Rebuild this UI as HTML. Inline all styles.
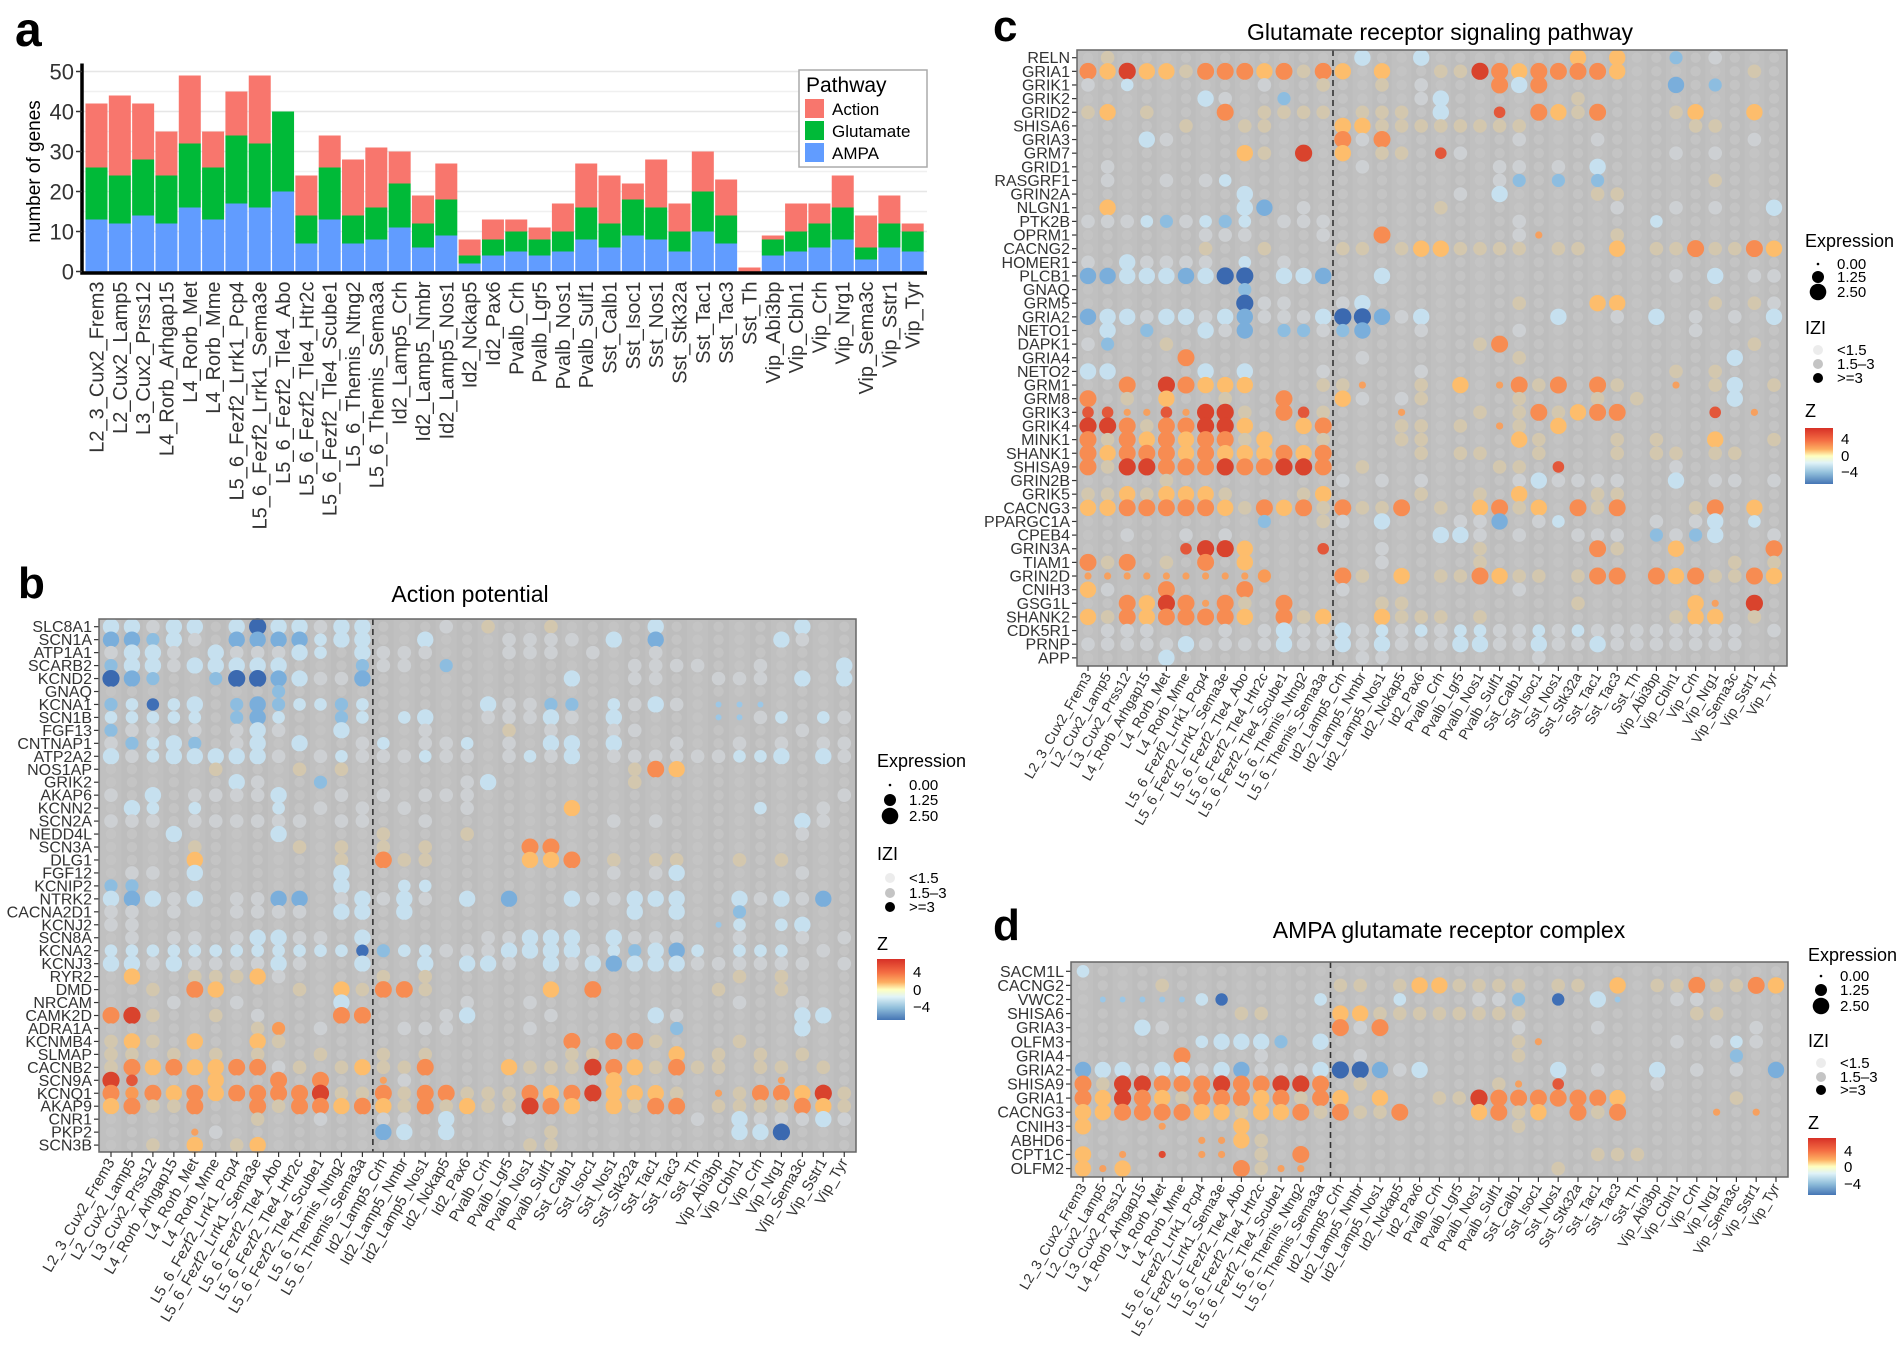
<!DOCTYPE html>
<html><head><meta charset="utf-8">
<style>
html,body{margin:0;padding:0;background:#fff;}
svg{display:block;font-family:"Liberation Sans Narrow","Liberation Sans",sans-serif;}
</style></head>
<body>
<svg id="fig" width="1901" height="1350" viewBox="0 0 1901 1350" xmlns="http://www.w3.org/2000/svg">
<defs>
<linearGradient id="zgrad" x1="0" y1="0" x2="0" y2="1">
<stop offset="0" stop-color="#d73027"/><stop offset="0.22" stop-color="#f46d43"/><stop offset="0.38" stop-color="#fdae61"/><stop offset="0.5" stop-color="#ffffbf"/><stop offset="0.62" stop-color="#e0f3f8"/><stop offset="0.8" stop-color="#91bfdb"/><stop offset="1" stop-color="#4575b4"/>
</linearGradient>
</defs>
<g id="panelA"></g>
<g id="panelB"></g>
<g id="panelC"></g>
<g id="panelD"></g>
</svg>
<script>
// ---------- shared categories ----------
const cellTypes = ["L2_3_Cux2_Frem3","L2_Cux2_Lamp5","L3_Cux2_Prss12","L4_Rorb_Arhgap15","L4_Rorb_Met","L4_Rorb_Mme","L5_6_Fezf2_Lrrk1_Pcp4","L5_6_Fezf2_Lrrk1_Sema3e","L5_6_Fezf2_Tle4_Abo","L5_6_Fezf2_Tle4_Htr2c","L5_6_Fezf2_Tle4_Scube1","L5_6_Themis_Ntng2","L5_6_Themis_Sema3a","Id2_Lamp5_Crh","Id2_Lamp5_Nmbr","Id2_Lamp5_Nos1","Id2_Nckap5","Id2_Pax6","Pvalb_Crh","Pvalb_Lgr5","Pvalb_Nos1","Pvalb_Sulf1","Sst_Calb1","Sst_Isoc1","Sst_Nos1","Sst_Stk32a","Sst_Tac1","Sst_Tac3","Sst_Th","Vip_Abi3bp","Vip_Cbln1","Vip_Crh","Vip_Nrg1","Vip_Sema3c","Vip_Sstr1","Vip_Tyr"];

// ---------- panel a data ----------
const ampaCounts = [13,12,14,12,16,13,17,16,20,7,13,7,8,11,6,9,2,4,5,4,5,8,6,9,8,5,10,7,0,4,5,6,8,3,6,5];
const glutamateCounts = [13,12,14,12,16,13,17,16,20,7,13,7,8,11,6,9,2,4,5,4,5,8,6,9,8,5,10,7,0,4,5,6,8,3,6,5];
const actionCounts = [16,20,14,11,17,9,11,17,0,10,8,14,15,8,7,9,4,5,3,3,7,11,12,4,12,7,10,9,1,1,7,5,8,8,7,2];
const yTicksA = [0,10,20,30,40,50];

// ---------- panel b data ----------
const genesB = ["SLC8A1","SCN1A","ATP1A1","SCARB2","KCND2","GNAQ","KCNA1","SCN1B","FGF13","CNTNAP1","ATP2A2","NOS1AP","GRIK2","AKAP6","KCNN2","SCN2A","NEDD4L","SCN3A","DLG1","FGF12","KCNIP2","NTRK2","CACNA2D1","KCNJ2","SCN8A","KCNA2","KCNJ3","RYR2","DMD","NRCAM","CAMK2D","ADRA1A","KCNMB4","SLMAP","CACNB2","SCN9A","KCNQ1","AKAP9","CNR1","PKP2","SCN3B"];
const valuesB = [
["LLgLL.LDLLgLL","...g.y..y....L","......L.."],
["MMmLg.MMMMlLL","..L...gggg.L.M",".....Lg.."],
["gLLg.LgggLl.L","ggg...ggg.g..g","........."],
["mLLgLLLLL...m","gg.m........gg","gg..g...L"],
["DMm..mDDMLggM",".........L..gg","..ggg.L.L"],
["........m....","..............","........."],
["mldlL.mMmllml",".....Lggmm.lgL","g.bbb...."],
["lllll.mMl..ml",".lL..gggLg.L..","..bbgl.lg"],
["mgg.g.gLg..L.","..g...y.g..gg.","......g.."],
["gmlLm.gL.L..g","l.ggl.g.LL.L..","g..g.g.gg"],
["LglLLLLLg.glg","gglgg.glgL.ggg","gggllL.Lg"],
[".....y...y.y.","............yO","Y........"],
["......Lg..m..","....gL......y.","........."],
["g.L.ggggL..g.","g.ggg.........","........g"],
[".Ll.l...l.g.g",".g..g....Y....","....l..g."],
["ggg.gggggg.gg","..g........g.g","......Lg."],
["...L....L....","y...y.........","......g.."],
["....y....y.y.","y.y....OO.....","........."],
["....Y......y.","Oyy....YYO.y.y","y..y.y..."],
[".gg.L......L.","...........g.g","L.....g.."],
["mm.........L.",".ll...........","........."],
["LMLgL.ggMM.gL","gLg.L.M..LggLL","L..LgLgM."],
["gg.g..gggg.LL",".L..........L.","L..m....."],
["gg...........","..............","..bl.lL.."],
[".g.gg.gLLgg.L",".....ggLLL.Lgg","g..g..g.g"],
["lllllllllllld","mllgggLLLLglmL","Ml.lll.g."],
["LLgLggggLg..L","..L.LLg.LgLMLL","Lgggggg.g"],
[".Y..yyyYg....","y.y...........","...y.y..."],
["..y.OY...y.Yy","OOy.....Y.O...","..y..y..."],
["...g..g....L.","....g..g......","...g..g.."],
["ORy..y.g...OO","...gL...g....L","g.....LL."],
[".......yo.g..",".ggg...g......","m.....L.."],
["yYy.Y..Yy....",".........O.OOy","...y....."],
["yy.y.y.y..y..","y.y......yy...","Y.y.y.y.."],
["yOYOYYOOgy.yY","yyO...YyyyROYy","Oyy.yy.y."],
["Rr...Y..O.O..","sg.........Y..",".....s..."],
["OoOYOYOOOORyy","OyOOyyyOYORYYY","y.syOOYRy"],
["YOyyO..OyOOYO","YyOyYyyROY.YyO","O.yyyyOYy"],
[".......y..g..","gg.L..g.......",".g.LgggLg"],
["....sg.......","ML.L....y.....","...LLD..."],
["..y.Y.yY.....",".......yy.....","........."]
];

// ---------- panel c data ----------
const genesC = ["RELN","GRIA1","GRIK1","GRIK2","GRID2","SHISA6","GRIA3","GRM7","GRID1","RASGRF1","GRIN2A","NLGN1","PTK2B","OPRM1","CACNG2","HOMER1","PLCB1","GNAQ","GRM5","GRIA2","NETO1","DAPK1","GRIA4","NETO2","GRM1","GRM8","GRIK3","GRIK4","MINK1","SHANK1","SHISA9","GRIN2B","GRIK5","CACNG3","PPARGC1A","CPEB4","GRIN3A","TIAM1","GRIN2D","CNIH3","GSG1L","SHANK2","CDK5R1","PRNP","APP"];
const valuesC = [
[".y...........",".L..L.......Y.","Y..m.g..."],
["OYRYYyOOOYOyO","Y.Y..yyROYOOOO","Y......y."],
["g.l......g..y","..y.g...OLO...","...M.m..."],
["......Lg..m..","....gL......y.","........."],
["yY.y...O.yyyy",".yyy.L..r.OYyO","...yY..Y."],
[".....y..yy...","YYyyyyyyyy....","....yy..."],
["...Lg........","OgO......g...g",".......g."],
["........Yy.R.","Y.yy.rg.......","...g.g..."],
[".g...........",".g......gg.g.L","........."],
[".g..g.gl.....","........gm.m.m",".....y..."],
["........L....","......g.L....y","y........"],
[".Y......LM.g.",".....y........","g..g.g..L"],
["ggglmglml.ggg",".........g....","..l......"],
["......ggg...g","..O......gs...","y........"],
["......y..y...","yy.yYYyyyy.yy.","Y.yyOyyOY"],
["g.Lgggg.l.g..","..............","........."],
["MMLLLMLDD.LLM","..L...........","...g.L.gg"],
["........m....","..............","........."],
["........Dgg..","gL.......y...Y","Y....y.yg"],
["MLLgLLgLMgggL","DDMgL......L..","g.L.g.g.L"],
[".L.m..LgM.mmg","mM..g....g....","....g...."],
["gm..y........",".......yO.....",".......y."],
[".....O.......",".g.......y....","......L.."],
["LL....L.L...g","....g.........","...y.y..."],
["..O.ROYYY...y","ys..y.Y.sOyO.O","y..s.yL.y"],
["O.y.Y..y..O..","Yg.gy....y...y",".y....L.."],
["rrssrsRRy.Ory","...s...y.yOyYO","O....r.s."],
["RROyOORRY..YO","...yy.y.sy.Y..","........."],
["OyOYOYOOyY..y","...yy....Yy...","y.y..Y..y"],
["OYOOOYOYYYOYO","....y.yy..y...","y.yy.yy.."],
["OyRROOOROORRO",".y......yy.r..","...g....."],
["....y........","g.g.g....gLggg","g..L.gg.g"],
["yyYyYYYy...yY","....y..y.Y...y","y........"],
["YYOOOOOYyOYOy","OyyO.y.YOyY.Oy","O...yO.Y."],
[".........m..y","g.L...ggM.gl..","..g.gL.l."],
["..g..g.g.....",".....LLg.g..gg","g.mgmL..g"],
[".....rRRY...r","..g....y.....O","y..Y....O"],
["OyO.y.O.Y....","..g....y......","......y.y"],
["ssssssssso...","Oy.Y.yyOYyy.yO","O.OYOyyOY"],
["Yg..O...O....","g........g....","........."],
["..OYROsOy.O..","..yy........y.","....Ys.R."],
["YyOYOOOOY.OyY","..Yyyy.y......","...yYY.y."],
[".ggg...g.gLgg","Lglglgllgglglg","ggggggg.g"],
["gggggLggggLgg","LgLgggLLggLggL","ggggggg.."],
["....L........",".gg.......g...","........."]
];

// ---------- panel d data ----------
const genesD = ["SACM1L","CACNG2","VWC2","SHISA6","GRIA3","OLFM3","GRIA4","GRIA2","SHISA9","GRIA1","CACNG3","CNIH3","ABHD6","CPT1C","OLFM2"];
const valuesD = [
["l............","..............","........."],
["....y........","yy.yYYyyyy.yy.","Y.yyOyyOY"],
[".bbbbbld....l","...l...ggm.d.L","b..gg...."],
["........yy...","YYyyyyyyyy....","....yy..."],
["...Lg........","OgO......g...g",".......g."],
["......lLLLm.L",".........ys...","...g.glg."],
[".....O...g...",".g.......y....","......m.."],
["MLLgLLgLMgggL","DDMgL......L.g","..L.g.g.M"],
["OyRROOOROORRO",".y......ys.r..","..g......"],
["OYROYyOOOYOyO","Y.Y..yyROOOOOO","Y.....y.."],
["YYOOOOYYyYYOy","OyyO...YOyY.Oy","O....s.s."],
["Y...s...Y....",".........y....","........."],
["......ssYy...","..............","........."],
["Y.s.x.ss.y.O.",".............y","yy......."],
["YsY.....Oyss.","...........y..","........."]
];
const zTicks = ["4","0","\u22124"];
const exprTicks = ["0.00","1.25","2.50"];
const iziTicks = ["<1.5","1.5\u20133",">=3"];

// ---------- helpers ----------
const NS = "http://www.w3.org/2000/svg";
function mk(parent, tag, attrs, text) {
  const el = document.createElementNS(NS, tag);
  for (const k in attrs) el.setAttribute(k, attrs[k]);
  if (text !== undefined) el.textContent = text;
  parent.appendChild(el);
  return el;
}
const dotStyle = {
  ".": ["#c4c4c4", 5.2], "g": ["#cdd0d3", 6.8], "l": ["#c8e1ef", 6.3], "L": ["#c6e0ef", 8.2],
  "m": ["#8dbde0", 6.6], "M": ["#7aaedb", 8.2], "d": ["#3f6fb6", 6.2], "D": ["#3b69b0", 8.6],
  "b": ["#9cc7e6", 3.0], "y": ["#d3c7ae", 6.8], "Y": ["#fdbd6c", 8.2], "o": ["#f99a55", 6.6],
  "O": ["#f78c52", 8.5], "r": ["#e3573a", 5.8], "R": ["#d9432d", 8.6], "s": ["#f6a05f", 3.6],
  "x": ["#e04a30", 3.6]
};

// ---------- panel a ----------
(function () {
  const g = document.getElementById("panelA");
  const y0 = 271.5, perGene = 4.0, xL = 82, xR = 927, bx0 = 96.5, bstep = 23.32, bw = 22;
  const yA = v => y0 - v * perGene;
  const xA = i => bx0 + i * bstep;
  let t = mk(g, "text", {x: 15, y: 46, "font-size": 48, "font-weight": "bold", "font-family": "Liberation Sans, sans-serif"}, "a");
  
  
  for (let v = 0; v <= 50; v += 5) {
    const ln = mk(g, "line", {x1: xL, x2: xR, y1: yA(v), y2: yA(v), stroke: v % 10 === 0 ? "#e6e6e6" : "#f0f0f0", "stroke-width": 1.6});
    
    
  }
  for (let i = 0; i < cellTypes.length; i++) {
    const segs = [["AMPA", ampaCounts[i], 0, "#619cff"], ["Glutamate", glutamateCounts[i], ampaCounts[i], "#00ba38"], ["Action", actionCounts[i], ampaCounts[i] + glutamateCounts[i], "#f8766d"]];
    segs.forEach(s => {
      if (s[1] <= 0) return;
      const r = mk(g, "rect", {x: xA(i) - bw / 2, y: yA(s[2] + s[1]), width: bw, height: s[1] * perGene, fill: s[3]});
      
      
    });
    const lb = mk(g, "text", {x: 0, y: 0, "font-size": 20, fill: "#333", "text-anchor": "end", transform: `translate(${xA(i) + 7},${y0 + 10}) rotate(-90)`}, cellTypes[i]);
    
    
  }
  const ax = mk(g, "path", {d: `M${xL},${yA(52)} V${y0 + 1.5} H${xR}`, stroke: "#000", "stroke-width": 3.5, fill: "none"});
  
  
  yTicksA.forEach(v => {
    const tk = mk(g, "line", {x1: xL - 6, x2: xL, y1: yA(v), y2: yA(v), stroke: "#333", "stroke-width": 1.5});
    
    
    const tl = mk(g, "text", {x: xL - 8, y: yA(v) + 8, "font-size": 22, fill: "#333", "text-anchor": "end"}, String(v));
    
    
  });
  const yt = mk(g, "text", {x: 0, y: 0, "font-size": 19, fill: "#000", "text-anchor": "middle", "font-family": "Liberation Sans, sans-serif", transform: `translate(40,${yA(25)}) rotate(-90)`}, "number of genes");
  
  
  const lg = mk(g, "g", {});
  
  
  mk(lg, "rect", {x: 799, y: 70, width: 128, height: 97, fill: "#fff", stroke: "#aaa", "stroke-width": 1.5});
  const lt = mk(lg, "text", {x: 806, y: 92, "font-size": 21, fill: "#000"}, "Pathway");
  
  
  [["Action", "#f8766d", 99], ["Glutamate", "#00ba38", 121], ["AMPA", "#619cff", 143]].forEach(e => {
    const eg = mk(lg, "g", {});
    
    
    mk(eg, "rect", {x: 805, y: e[2], width: 19, height: 19, fill: e[1]});
    mk(eg, "text", {x: 832, y: e[2] + 16, "font-size": 17, fill: "#000"}, e[0]);
  });
})();

// ---------- dot plot builder ----------
function dotPlot(cfg) {
  const g = document.getElementById(cfg.id);
  const xC = i => cfg.x0 + i * cfg.xs;
  const yR = j => cfg.y0 + j * cfg.ys;
  let t = mk(g, "text", {x: cfg.lx, y: cfg.ly, "font-size": 44, "font-weight": "bold", "font-family": "Liberation Sans, sans-serif"}, cfg.letter);
  
  
  t = mk(g, "text", {x: cfg.tx, y: cfg.ty, "font-size": 23, "text-anchor": "middle", fill: "#000", "font-family": "Liberation Sans, sans-serif"}, cfg.title);
  
  
  const bg = mk(g, "rect", {x: cfg.bx1, y: cfg.by1, width: cfg.bx2 - cfg.bx1, height: cfg.by2 - cfg.by1, fill: "#bdbdbd"});
  
  
  for (let i = 0; i < cellTypes.length; i += 2) {
    const st = mk(g, "rect", {x: xC(i) - cfg.xs / 2, y: cfg.by1, width: cfg.xs, height: cfg.by2 - cfg.by1, fill: "#c0c0c0"});
    
    
  }
  cfg.genes.forEach((gene, j) => {
    const row = (cfg.vals[j][0] + cfg.vals[j][1] + cfg.vals[j][2]).padEnd(36, ".");
    for (let i = 0; i < cellTypes.length; i++) {
      const s = dotStyle[row[i]] || dotStyle["."];
      const c = mk(g, "circle", {cx: xC(i), cy: yR(j), r: s[1] * cfg.k, fill: s[0]});
      
      
    }
    const tk = mk(g, "line", {x1: cfg.bx1 - 5, x2: cfg.bx1, y1: yR(j), y2: yR(j), stroke: "#333", "stroke-width": 1.2});
    
    
    const lb = mk(g, "text", {x: cfg.bx1 - 7, y: yR(j) + 5.5, "font-size": 16, fill: "#333", "text-anchor": "end"}, gene);
    
    
  });
  const dx = (xC(12) + xC(13)) / 2;
  const dl = mk(g, "line", {x1: dx, x2: dx, y1: cfg.by1, y2: cfg.by2, stroke: "#333", "stroke-width": 1.6, "stroke-dasharray": "6,4"});
  
  
  const bd = mk(g, "rect", {x: cfg.bx1, y: cfg.by1, width: cfg.bx2 - cfg.bx1, height: cfg.by2 - cfg.by1, fill: "none", stroke: "#666", "stroke-width": 1.5});
  
  
  cellTypes.forEach((ct, i) => {
    const tk = mk(g, "line", {x1: xC(i), x2: xC(i), y1: cfg.by2, y2: cfg.by2 + 5, stroke: "#333", "stroke-width": 1.2});
    
    
    const lb = mk(g, "text", {x: 0, y: 0, "font-size": cfg.xf, fill: "#333", "text-anchor": "end", transform: `translate(${xC(i) + 4},${cfg.by2 + 10}) rotate(-60)`}, ct);
    
    
  });
  const L = cfg.leg;
  const lg = mk(g, "g", {});
  
  
  mk(lg, "text", {x: L.x, y: L.ey, "font-size": 18, fill: "#000"}, "Expression");
  const er = [1.3, 6, 8.3];
  exprTicks.forEach((v, q) => {
    const e = mk(lg, "g", {});
    
    
    mk(e, "circle", {cx: L.x + 13, cy: L.es[q], r: er[q], fill: "#000"});
    mk(e, "text", {x: L.x + 32, y: L.es[q] + 5, "font-size": 15, fill: "#000"}, v);
  });
  mk(lg, "text", {x: L.x, y: L.iy, "font-size": 18, fill: "#000"}, "IZI");
  const ic = ["#ececec", "#c4c4c4", "#000"];
  iziTicks.forEach((v, q) => {
    const e = mk(lg, "g", {});
    
    
    mk(e, "circle", {cx: L.x + 13, cy: L.is[q], r: 5, fill: ic[q]});
    mk(e, "text", {x: L.x + 32, y: L.is[q] + 5, "font-size": 15, fill: "#000"}, v);
  });
  mk(lg, "text", {x: L.x, y: L.zy, "font-size": 18, fill: "#000"}, "Z");
  const cb = mk(lg, "rect", {x: L.x, y: L.c1, width: 28, height: L.c2 - L.c1, fill: "url(#zgrad)"});
  
  
  zTicks.forEach((v, q) => {
    mk(lg, "text", {x: L.x + 36, y: L.zs[q] + 5, "font-size": 15, fill: "#000"}, v);
  });
}

dotPlot({id: "panelB", letter: "b", lx: 18, ly: 598, title: "Action potential", tx: 470, ty: 602,
  genes: genesB, vals: valuesB, x0: 111, xs: 20.95, y0: 626.7, ys: 12.96, k: 1.0,
  bx1: 99, bx2: 856, by1: 619, by2: 1152, xf: 15,
  leg: {x: 877, ey: 767, es: [785, 800, 816], iy: 860, is: [878, 893, 907], zy: 950, c1: 959, c2: 1020, zs: [972, 990, 1007]}});
dotPlot({id: "panelC", letter: "c", lx: 993, ly: 41, title: "Glutamate receptor signaling pathway", tx: 1440, ty: 40,
  genes: genesC, vals: valuesC, x0: 1088, xs: 19.6, y0: 57.7, ys: 13.64, k: 1.0,
  bx1: 1077, bx2: 1787, by1: 50, by2: 666, xf: 14,
  leg: {x: 1805, ey: 247, es: [264, 277, 292], iy: 334, is: [350, 364, 378], zy: 417, c1: 428, c2: 484, zs: [439, 456, 472]}});
dotPlot({id: "panelD", letter: "d", lx: 993, ly: 940, title: "AMPA glutamate receptor complex", tx: 1449, ty: 938,
  genes: genesD, vals: valuesD, x0: 1083, xs: 19.8, y0: 971.3, ys: 14.09, k: 1.0,
  bx1: 1071, bx2: 1788, by1: 962, by2: 1177, xf: 14,
  leg: {x: 1808, ey: 961, es: [976, 990, 1006], iy: 1047, is: [1063, 1077, 1090], zy: 1129, c1: 1138, c2: 1195, zs: [1151, 1167, 1184]}});
</script>
</body></html>
